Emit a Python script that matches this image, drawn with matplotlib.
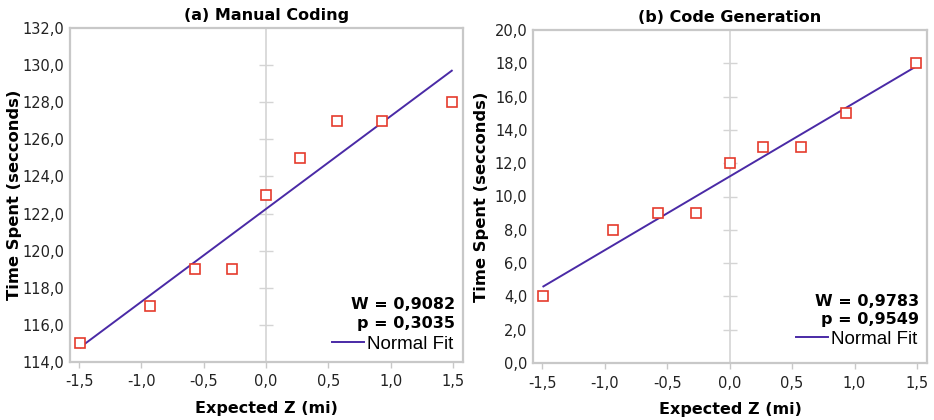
import numpy as np
import matplotlib.pyplot as plt
from matplotlib.ticker import FuncFormatter

# Expected Z values (normal quantiles, n = 9)
expected_z = [-1.49, -0.93, -0.57, -0.27, 0.0, 0.27, 0.57, 0.93, 1.49]

# Observed time spent (seconds)
manual_time = [115, 117, 119, 119, 123, 125, 127, 127, 128]
codegen_time = [4, 8, 9, 9, 12, 13, 13, 15, 18]

# Normal fit line end points
fit_z = [-1.49, 1.49]
manual_fit = [114.8, 129.7]
codegen_fit = [4.6, 17.8]

titles = ["(a) Manual Coding", "(b) Code Generation"]
w_text = ["W = 0,9082", "W = 0,9783"]
p_text = ["p = 0,3035", "p = 0,9549"]
ylims = [(114, 132), (0, 20)]
yticks = [np.arange(114, 133, 2), np.arange(0, 21, 2)]
xticks = [-1.5, -1.0, -0.5, 0.0, 0.5, 1.0, 1.5]

RED = "#e53b2c"
PURPLE = "#4a2aa6"
GRID = "#c8c8c8"

comma = FuncFormatter(lambda v, p: f"{v:.1f}".replace(".", ","))

fig = plt.figure(figsize=(9.34, 4.2), dpi=100)
axes = [fig.add_axes([70 / 934, 1 - 362 / 420, 393 / 934, 334 / 420]),
        fig.add_axes([533 / 934, 1 - 363 / 420, 394 / 934, 333 / 420])]

# per panel placement tweaks (axes fractions)
ylabel_x = [-0.122, -0.112]
w_y = [0.159, 0.172]
p_y = [0.103, 0.116]
leg_y = [0.028, 0.045]

for i, ax in enumerate(axes):
    y = [manual_time, codegen_time][i]
    fit = [manual_fit, codegen_fit][i]
    yt = yticks[i]

    ax.plot(fit_z, fit, color=PURPLE, lw=1.4, label="Normal Fit", zorder=3)
    ax.plot(expected_z, y, ls="none", marker="s", ms=7.5, mfc="white",
            mec=RED, mew=1.2, zorder=4)

    ax.set_xlim(-1.573, 1.58)
    ax.set_ylim(*ylims[i])
    ax.set_xticks(xticks)
    ax.set_yticks(yt)
    ax.xaxis.set_major_formatter(comma)
    ax.yaxis.set_major_formatter(comma)
    ax.tick_params(axis="y", length=0, labelsize=10.5, pad=4, labelcolor="#222222")
    ax.tick_params(axis="x", length=4, width=1, color=GRID, labelsize=10.5,
                   pad=5, labelcolor="#222222")
    for s in ax.spines.values():
        s.set_color(GRID)
        s.set_linewidth(1.6)

    # vertical zero line with cross ticks
    zax = ax.secondary_yaxis(0, transform=ax.transData)
    zax.spines["left"].set_color("#d4d4d4")
    zax.spines["left"].set_linewidth(1.2)
    zax.set_yticks(yt[1:-1])
    zax.tick_params(direction="inout", length=10, width=1, color="#d4d4d4",
                    labelleft=False)

    ax.set_title(titles[i], fontsize=11.5, fontweight="bold", pad=6)
    ax.set_xlabel("Expected Z (mi)", fontsize=11.5, fontweight="bold", labelpad=8)
    ax.set_ylabel("Time Spent (secconds)", fontsize=11.8, fontweight="bold")
    ax.yaxis.set_label_coords(ylabel_x[i], 0.5)

    ax.text(0.98, w_y[i], w_text[i], transform=ax.transAxes, ha="right",
            va="baseline", fontsize=11.5, fontweight="bold")
    ax.text(0.98, p_y[i], p_text[i], transform=ax.transAxes, ha="right",
            va="baseline", fontsize=11.5, fontweight="bold")
    ax.legend(loc="lower right", bbox_to_anchor=(0.975, leg_y[i]),
              frameon=False, handlelength=1.7, handletextpad=0.15,
              borderaxespad=0, borderpad=0,
              prop={"family": "Liberation Sans", "size": 13.5})

fig.savefig("out.png", dpi=100)
